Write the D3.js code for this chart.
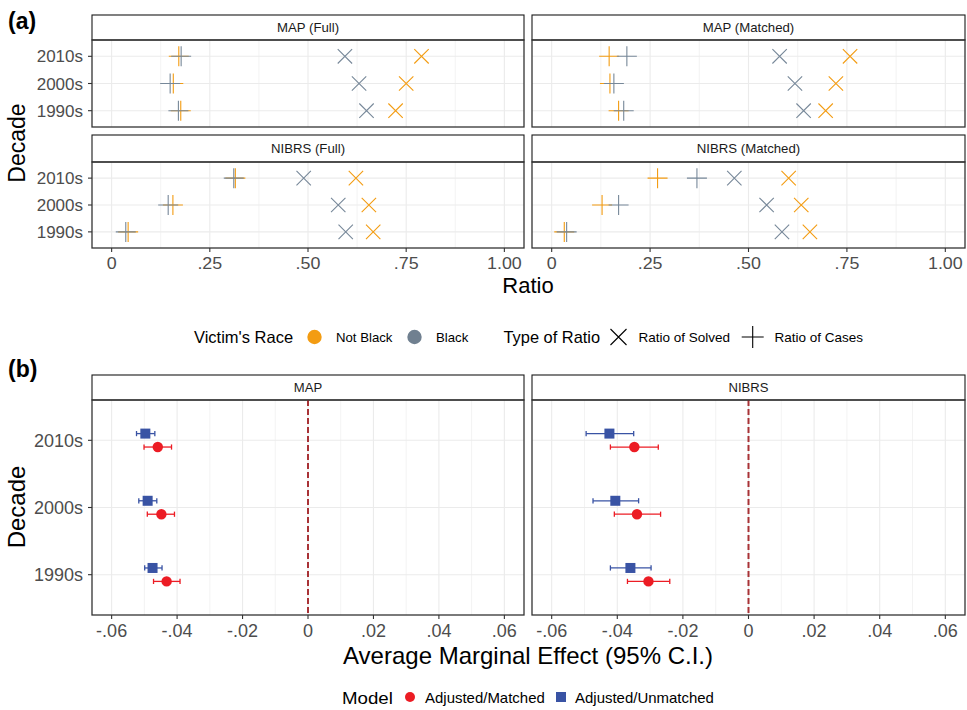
<!DOCTYPE html>
<html>
<head>
<meta charset="utf-8">
<title>Ratios and marginal effects by decade</title>
<script src="https://cdn.jsdelivr.net/npm/d3@7"></script>
<style>
  body { margin: 0; background: #fff; }
  text { font-family: "Liberation Sans", Arial, sans-serif; }
</style>
</head>
<body>
<svg id="chart" width="967" height="710"></svg>
<script>
// ---- data ----
const decades = ["2010s", "2000s", "1990s"];          // top to bottom
const ratioFacets = ["MAP (Full)", "MAP (Matched)", "NIBRS (Full)", "NIBRS (Matched)"];
// each row: one facet, values for 2010s, 2000s, 1990s
const solvedNotBlack = [[0.789, 0.750, 0.723], [0.758, 0.722, 0.696], [0.622, 0.655, 0.666], [0.602, 0.634, 0.656]];
const solvedBlack    = [[0.594, 0.630, 0.649], [0.579, 0.618, 0.640], [0.489, 0.577, 0.596], [0.464, 0.546, 0.585]];
const casesNotBlack  = [[0.171, 0.157, 0.176], [0.146, 0.148, 0.170], [0.315, 0.156, 0.042], [0.269, 0.128, 0.032]];
const casesBlack     = [[0.177, 0.149, 0.170], [0.191, 0.158, 0.183], [0.311, 0.144, 0.036], [0.369, 0.170, 0.038]];
const ratioTicks = [0, 0.25, 0.5, 0.75, 1];
const ratioTickLabels = ["0", ".25", ".50", ".75", "1.00"];

const ameFacets = ["MAP", "NIBRS"];
const matchedEst   = [[-0.0459, -0.0448, -0.0432], [-0.0348, -0.0340, -0.0305]];
const matchedLo    = [[-0.0501, -0.0491, -0.0472], [-0.0421, -0.0409, -0.0369]];
const matchedHi    = [[-0.0417, -0.0408, -0.0391], [-0.0275, -0.0268, -0.0240]];
const unmatchedEst = [[-0.0497, -0.0490, -0.0475], [-0.0424, -0.0406, -0.0360]];
const unmatchedLo  = [[-0.0524, -0.0517, -0.0499], [-0.0495, -0.0474, -0.0421]];
const unmatchedHi  = [[-0.0468, -0.0462, -0.0446], [-0.0350, -0.0335, -0.0297]];
const ameTicks = [-0.06, -0.04, -0.02, 0, 0.02, 0.04, 0.06];
const ameTickLabels = ["-.06", "-.04", "-.02", "0", ".02", ".04", ".06"];

// ---- styling ----
const orange = "#F39C12", slate = "#778899", slateKey = "#708090";
const red = "#EC1C24", blue = "#3953A4";
const grid = "#EBEBEB", tickCol = "#4D4D4D";

const svg = d3.select("#chart");

function label(g, x, y, s, o) {
  o = o || {};
  return g.append("text")
    .attr("transform", `translate(${x},${y})` + (o.rot ? ` rotate(${o.rot})` : "") + ` scale(${o.sx || 1},1)`)
    .attr("text-anchor", o.anchor || "start")
    .attr("font-weight", o.bold ? "bold" : null)
    .style("font-size", o.size + "px")
    .attr("fill", o.fill || "#000")
    .text(s);
}

function plusPath(r) { return `M${-r},0H${r}M0,${-r}V${r}`; }
function crossPath(r) { return `M${-r},${-r}L${r},${r}M${-r},${r}L${r},${-r}`; }

// draw a facet frame: strip, gridlines, border. returns {x, y, g}
function facet(x0, x1, sTop, pTop, pBot, title, xdom, majors, minors, stripSize, stripSx) {
  const g = svg.append("g");
  const x = d3.scaleLinear().domain(xdom).range([x0, x1]);
  const y = d3.scalePoint().domain(decades).range([pTop, pBot]).padding(0.6);
  g.selectAll(".minor").data(minors).join("line")
    .attr("x1", d => x(d)).attr("x2", d => x(d)).attr("y1", pTop).attr("y2", pBot)
    .attr("stroke", grid).attr("stroke-width", 0.6);
  g.selectAll(".major").data(majors).join("line")
    .attr("x1", d => x(d)).attr("x2", d => x(d)).attr("y1", pTop).attr("y2", pBot)
    .attr("stroke", grid).attr("stroke-width", 1.1);
  g.selectAll(".hmajor").data(decades).join("line")
    .attr("x1", x0).attr("x2", x1).attr("y1", d => y(d)).attr("y2", d => y(d))
    .attr("stroke", grid).attr("stroke-width", 1.1);
  g.append("rect").attr("x", x0).attr("y", sTop).attr("width", x1 - x0).attr("height", pTop - sTop)
    .attr("fill", "#fff").attr("stroke", "#1A1A1A").attr("stroke-width", 1.1);
  label(g, (x0 + x1) / 2, (sTop + pTop) / 2 + stripSize * 0.36, title, { size: stripSize, sx: stripSx, anchor: "middle", fill: "#1A1A1A" });
  return { x, y, g, frame: () => g.append("rect").attr("x", x0).attr("y", pTop).attr("width", x1 - x0).attr("height", pBot - pTop)
    .attr("fill", "none").attr("stroke", "#333").attr("stroke-width", 1.3) };
}

function yAxis(f, x0, size) {
  const g = f.g;
  decades.forEach(d => {
    g.append("line").attr("x1", x0 - 4).attr("x2", x0).attr("y1", f.y(d)).attr("y2", f.y(d)).attr("stroke", "#333").attr("stroke-width", 1.1);
    label(g, x0 - 9, f.y(d) + size * 0.36, d, { size: size, anchor: "end", fill: tickCol });
  });
}

function xAxis(f, pBot, ticks, labels, size, sx) {
  const g = f.g;
  ticks.forEach((t, i) => {
    g.append("line").attr("x1", f.x(t)).attr("x2", f.x(t)).attr("y1", pBot).attr("y2", pBot + 4).attr("stroke", "#333").attr("stroke-width", 1.1);
    label(g, f.x(t), pBot + 4 + size * 0.98, labels[i], { size: size, sx: sx, anchor: "middle", fill: tickCol });
  });
}

// ---- panel (a) ----
const colsA = [[92, 524], [532, 965]];
const rowsA = [[15, 40, 127], [135, 162, 248]];
const ratioMinors = d3.range(0.125, 1.1, 0.25);

ratioFacets.forEach((name, k) => {
  const c = colsA[k % 2], r = rowsA[Math.floor(k / 2)];
  const f = facet(c[0], c[1], r[0], r[1], r[2], name, [-0.05, 1.05], ratioTicks, ratioMinors, 12, 1.1);
  const series = [
    [solvedNotBlack[k], orange, crossPath(7.2)],
    [solvedBlack[k], slate, crossPath(7.2)],
    [casesNotBlack[k], orange, plusPath(10)],
    [casesBlack[k], slate, plusPath(10)]
  ];
  series.forEach(([vals, col, p]) => {
    f.g.selectAll(null).data(vals).join("path")
      .attr("transform", (v, i) => `translate(${f.x(v)},${f.y(decades[i])})`)
      .attr("d", p).attr("fill", "none").attr("stroke", col).attr("stroke-width", 1.1);
  });
  f.frame();
  if (k % 2 === 0) yAxis(f, c[0], 17);
  if (k >= 2) xAxis(f, r[2], ratioTicks, ratioTickLabels, 17, 1.05);
});

label(svg, 8, 29, "(a)", { size: 23, bold: true });
label(svg, 528, 293, "Ratio", { size: 22, anchor: "middle" });
label(svg, 25, 143, "Decade", { size: 23, anchor: "middle", rot: -90 });

// legend (a)
const legA = svg.append("g");
const ly = 337;
label(legA, 194, ly + 6, "Victim's Race", { size: 16.5 });
legA.append("circle").attr("cx", 314.5).attr("cy", ly).attr("r", 7.2).attr("fill", orange);
label(legA, 336, ly + 5, "Not Black", { size: 13.2 });
legA.append("circle").attr("cx", 414.5).attr("cy", ly).attr("r", 7.2).attr("fill", slateKey);
label(legA, 436, ly + 5, "Black", { size: 13.2 });
label(legA, 503.5, ly + 6, "Type of Ratio", { size: 16.4 });
legA.append("path").attr("transform", `translate(618.5,${ly})`).attr("d", crossPath(8)).attr("stroke", "#000").attr("stroke-width", 1.1).attr("fill", "none");
label(legA, 638.5, ly + 5, "Ratio of Solved", { size: 13.5 });
legA.append("path").attr("transform", `translate(752.7,${ly})`).attr("d", plusPath(11)).attr("stroke", "#000").attr("stroke-width", 1.1).attr("fill", "none");
label(legA, 774.5, ly + 5, "Ratio of Cases", { size: 13.5 });

// ---- panel (b) ----
const colsB = [[92, 524], [532, 965]];
const ameMinors = d3.range(-0.05, 0.06, 0.02);

ameFacets.forEach((name, k) => {
  const c = colsB[k];
  const f = facet(c[0], c[1], 375, 400, 615, name, [-0.066, 0.066], ameTicks, ameMinors, 13.5, 0.97);
  const step = f.y.step();
  f.g.append("line").attr("x1", f.x(0)).attr("x2", f.x(0)).attr("y1", 400).attr("y2", 615)
    .attr("stroke", "#A83236").attr("stroke-width", 2).attr("stroke-dasharray", "6,3");
  const models = [
    [unmatchedEst[k], unmatchedLo[k], unmatchedHi[k], blue, -0.1, "square"],
    [matchedEst[k], matchedLo[k], matchedHi[k], red, 0.1, "circle"]
  ];
  models.forEach(([est, lo, hi, col, dy, shape]) => {
    decades.forEach((d, i) => {
      const yy = f.y(d) + dy * step;
      f.g.append("line").attr("x1", f.x(lo[i])).attr("x2", f.x(hi[i])).attr("y1", yy).attr("y2", yy).attr("stroke", col).attr("stroke-width", 1.3);
      [lo[i], hi[i]].forEach(v => f.g.append("line").attr("x1", f.x(v)).attr("x2", f.x(v)).attr("y1", yy - 2.6).attr("y2", yy + 2.6).attr("stroke", col).attr("stroke-width", 1.3));
      if (shape === "circle") f.g.append("circle").attr("cx", f.x(est[i])).attr("cy", yy).attr("r", 5.2).attr("fill", col);
      else f.g.append("rect").attr("x", f.x(est[i]) - 5).attr("y", yy - 5).attr("width", 10).attr("height", 10).attr("fill", col);
    });
  });
  f.frame();
  if (k === 0) yAxis(f, c[0], 18);
  xAxis(f, 615, ameTicks, ameTickLabels, 18, 1);
});

label(svg, 8, 377, "(b)", { size: 23, bold: true });
label(svg, 528, 664, "Average Marginal Effect (95% C.I.)", { size: 24, anchor: "middle" });
label(svg, 25, 507, "Decade", { size: 24, anchor: "middle", rot: -90 });

// legend (b)
const legB = svg.append("g");
const by = 698;
label(legB, 342, by + 6, "Model", { size: 17, sx: 1.1 });
legB.append("circle").attr("cx", 410).attr("cy", by - 1).attr("r", 5).attr("fill", red);
label(legB, 425, by + 5, "Adjusted/Matched", { size: 14, sx: 1.07 });
legB.append("rect").attr("x", 556).attr("y", by - 6).attr("width", 10).attr("height", 10).attr("fill", blue);
label(legB, 575, by + 5, "Adjusted/Unmatched", { size: 14, sx: 1.07 });
</script>
</body>
</html>
